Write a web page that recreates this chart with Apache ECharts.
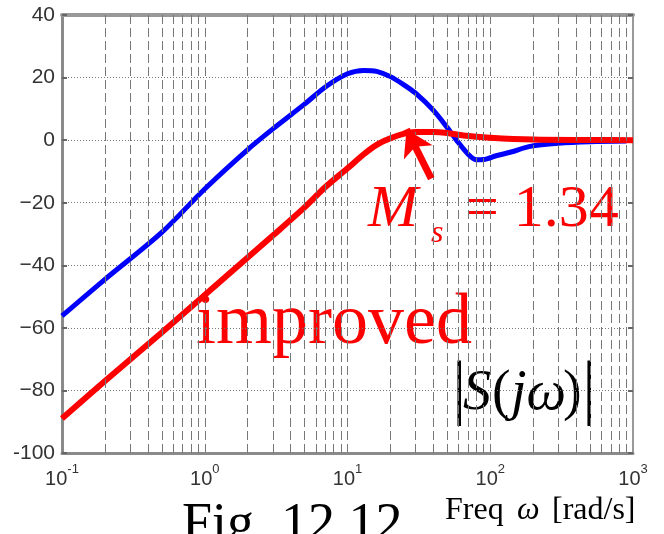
<!DOCTYPE html>
<html lang="en">
<head>
    <meta charset="UTF-8">
    <title>|S(jω)|</title>
    <script src="https://cdn.jsdelivr.net/npm/echarts@6/dist/echarts.min.js"></script>
    <style>
        *{
            margin: 0;
            padding: 0;
        }
        .container{
            width: 664px;
            height: 534px;
            background: #fff;
        }
    </style>
</head>
<body>
<div class="container"></div>
<script>
    // frequencies (rad/s) and |S| in dB
    const blueFreq = [0.1, 0.2, 0.5, 1, 2, 3, 5, 7, 10, 13, 16, 20, 25, 30, 40, 50, 58, 70, 80, 90, 110, 140, 190, 300, 500, 900];
    const blueDb   = [-56.2, -44.5, -29.5, -15.6, -3, 3.6, 11.5, 17, 21.2, 22.3, 22, 20.3, 17.6, 15, 9.5, 4, 0, -4.5, -6.3, -6.2, -5, -3.8, -2, -1, -0.5, -0.3];

    const redFreq = [0.1, 0.2, 0.5, 1, 2, 3, 5, 7, 10, 13, 16, 20, 25, 30, 40, 50, 65, 100, 200, 500, 1000];
    const redDb   = [-89, -77, -61.5, -49.5, -37.5, -30.5, -21.5, -15, -9, -4.5, -1.5, 0.6, 2.1, 2.6, 2.6, 2.3, 1.5, 0.8, 0.2, 0.05, 0];

    const xDecades = [0.1, 1, 10, 100, 1000];
    const xExponents = ['-1', '0', '1', '2', '3'];
    const yTicks = [-100, -80, -60, -40, -20, 0, 20, 40];
    const yTickLabels = ['-100', '\u221280', '\u221260', '\u221240', '\u221220', '0', '20', '40'];

    // arrow pointing at the peak of the improved curve (tail, head)
    const arrowTail = [38.6, -12.3];
    const arrowHead = [25.9, 3.5];

    let main = document.querySelectorAll(".container");
    let mycharts = echarts.init(main[0]);

    // minor log grid lines 2..9 x each decade
    let minorLines = [];
    xDecades.slice(0, -1).forEach(d => {
        for (let k = 2; k <= 9; k++) {
            minorLines.push({xAxis: d * k});
        }
    });

    const zip = (xs, ys) => xs.map((x, i) => [x, ys[i]]);
    const serif = 'Liberation Serif';
    const sans = 'Liberation Sans';

    let Option = {
        animation: false,
        backgroundColor: '#fff',
        grid: {
            left: 62,
            right: 31,
            top: 15,
            bottom: 81
        },
        xAxis: [{
            type: 'log',
            logBase: 10,
            min: 0.1,
            max: 1000,
            axisLine: {onZero: false, lineStyle: {color: '#8a8a8a', width: 3}},
            axisTick: {show: false},
            axisLabel: {
                margin: 10,
                formatter: function (v) {
                    let i = xDecades.findIndex(d => Math.abs(Math.log10(d) - Math.log10(v)) < 1e-6);
                    return '{b|10}{s|' + xExponents[i] + '}';
                },
                rich: {
                    b: {fontSize: 20, fontFamily: sans, color: '#333', verticalAlign: 'bottom', lineHeight: 26},
                    s: {fontSize: 13, fontFamily: sans, color: '#333', verticalAlign: 'top', lineHeight: 26}
                }
            },
            splitLine: {
                show: true,
                lineStyle: {color: '#777', type: [9, 4], width: 1}
            }
        }, {
            type: 'log',
            logBase: 10,
            min: 0.1,
            max: 1000,
            position: 'top',
            axisLine: {onZero: false, lineStyle: {color: '#999', width: 4}},
            axisTick: {show: false},
            axisLabel: {show: false},
            splitLine: {show: false}
        }],
        yAxis: [{
            type: 'value',
            min: -100,
            max: 40,
            interval: 20,
            axisLine: {show: true, onZero: false, lineStyle: {color: '#8a8a8a', width: 3}},
            axisTick: {show: true, inside: true, length: 5, lineStyle: {color: '#666', width: 2}},
            axisLabel: {
                margin: 7,
                color: '#333',
                fontSize: 21,
                fontFamily: sans,
                formatter: function (v) {
                    return yTickLabels[yTicks.indexOf(v)];
                }
            },
            splitLine: {
                show: true,
                lineStyle: {color: '#777', type: [1, 2], width: 1}
            }
        }, {
            type: 'value',
            min: -100,
            max: 40,
            interval: 20,
            position: 'right',
            axisLine: {show: true, onZero: false, lineStyle: {color: '#999', width: 2}},
            axisTick: {show: true, inside: true, length: 5, lineStyle: {color: '#666', width: 2}},
            axisLabel: {show: false},
            splitLine: {show: false}
        }],
        series: [{
            name: 'grid',
            type: 'line',
            data: [],
            z: 1,
            markLine: {
                silent: true,
                symbol: 'none',
                label: {show: false},
                lineStyle: {color: '#777', type: [9, 4], width: 1},
                data: minorLines
            }
        }, {
            name: 'original',
            type: 'line',
            data: zip(blueFreq, blueDb),
            smooth: 0.3,
            showSymbol: false,
            lineStyle: {color: '#0000ff', width: 5},
            z: 3
        }, {
            name: 'improved',
            type: 'line',
            data: zip(redFreq, redDb),
            smooth: 0.3,
            showSymbol: false,
            lineStyle: {color: '#ff0000', width: 6},
            z: 4,
            markLine: {
                silent: true,
                symbol: ['none', 'arrow'],
                symbolSize: [24, 26],
                label: {show: false},
                lineStyle: {color: '#ff0000', width: 7, type: 'solid'},
                data: [[{coord: arrowTail}, {coord: arrowHead}]]
            }
        }],
        graphic: [{
            type: 'text',
            x: 196, y: 324,
            style: {text: 'improved', font: '72px ' + serif, fill: '#ff0000', verticalAlign: 'middle'}
        }, {
            type: 'text',
            x: 368, y: 210,
            style: {text: 'M', font: 'italic 60px ' + serif, fill: '#ff0000', verticalAlign: 'middle'}
        }, {
            type: 'text',
            x: 431, y: 234,
            style: {text: 's', font: 'italic 32px ' + serif, fill: '#ff0000', verticalAlign: 'middle'}
        }, {
            type: 'text',
            x: 465, y: 210,
            style: {text: '= 1.34', font: '60px ' + serif, fill: '#ff0000', verticalAlign: 'middle'}
        }, {
            type: 'text',
            x: 452, y: 392,
            style: {text: '|', font: '72px ' + serif, fill: '#000', verticalAlign: 'middle'}
        }, {
            type: 'text',
            x: 463, y: 394,
            style: {text: 'S', font: 'italic 56px ' + serif, fill: '#000', verticalAlign: 'middle'}
        }, {
            type: 'text',
            x: 492, y: 394,
            style: {text: '(', font: '56px ' + serif, fill: '#000', verticalAlign: 'middle'}
        }, {
            type: 'text',
            x: 511, y: 394,
            style: {text: 'jω', font: 'italic 56px ' + serif, fill: '#000', verticalAlign: 'middle'}
        }, {
            type: 'text',
            x: 563, y: 394,
            style: {text: ')', font: '56px ' + serif, fill: '#000', verticalAlign: 'middle'}
        }, {
            type: 'text',
            x: 582, y: 392,
            style: {text: '|', font: '72px ' + serif, fill: '#000', verticalAlign: 'middle'}
        }, {
            type: 'text',
            x: 445, y: 511,
            style: {text: 'Freq', font: '32px ' + serif, fill: '#000', verticalAlign: 'middle'}
        }, {
            type: 'text',
            x: 517, y: 511,
            style: {text: 'ω', font: 'italic 32px ' + serif, fill: '#000', verticalAlign: 'middle'}
        }, {
            type: 'text',
            x: 552, y: 511,
            style: {text: '[rad/s]', font: '32px ' + serif, fill: '#000', verticalAlign: 'middle'}
        }, {
            type: 'text',
            x: 182, y: 526,
            style: {text: 'Fig. 12.12', font: '54px ' + serif, fill: '#000', verticalAlign: 'middle'}
        }]
    };

    mycharts.setOption(Option);
</script>
</body>
</html>
